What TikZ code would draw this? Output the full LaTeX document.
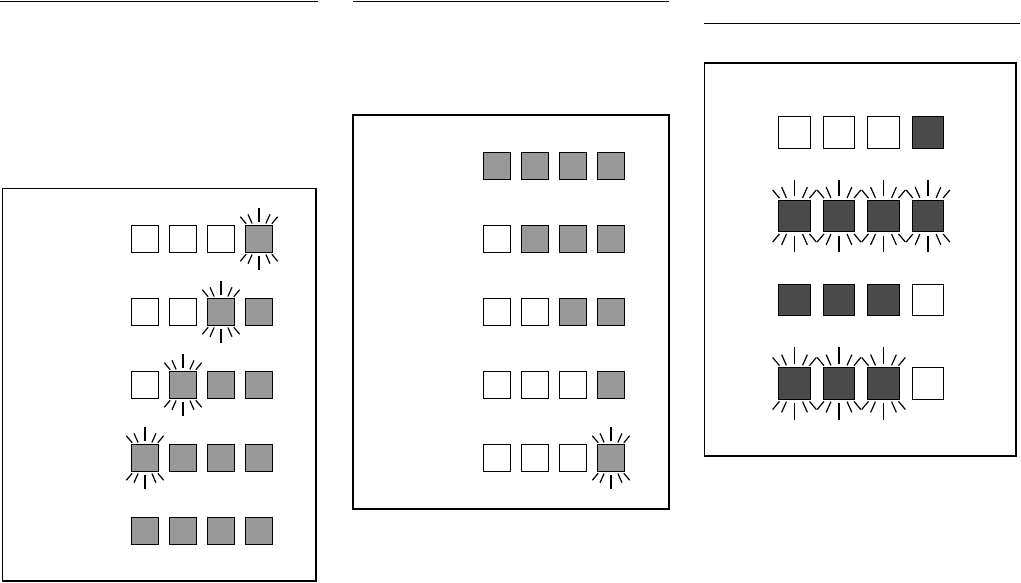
\documentclass[tikz,border=0pt]{standalone}
\definecolor{midgray}{HTML}{999999}
\definecolor{darkgray}{HTML}{4A4A4A}
\tikzset{
  panel/.style={draw=black,line width=1.5pt,fill=none},
  rule/.style={draw=black,line width=1.1pt},
  sq/.style={draw=black,line width=1.4pt,minimum size=27pt,inner sep=0pt,fill=white},
  bigsq/.style={sq,minimum size=31.5pt},
  off/.style={fill=white},
  on/.style={fill=midgray},
  dark/.style={fill=darkgray},
  ray/.style={draw=black,line width=1.2pt}
}
\newcommand\glowrays[2]{%
  \begin{scope}[shift={(#1.center)},scale=#2]
    \foreach \a/\ra/\rb in {90/17/31,66/17/27,114/17/27,50/20/29,130/20/29,
                            -90/17/31,-66/17/27,-114/17/27,-50/20/29,-130/20/29}
      \draw[ray] (\a:\ra) -- (\a:\rb);
  \end{scope}}
\begin{document}
\begin{tikzpicture}[x=1pt,y=-1pt]
\useasboundingbox (0,0) rectangle (1021,582);
% top rules
\coordinate (r1a) at (0,1.5);   \coordinate (r1b) at (318,1.5);
\coordinate (r2a) at (353,1.5); \coordinate (r2b) at (669,1.5);
\coordinate (r3a) at (704,23.5);\coordinate (r3b) at (1020,23.5);
\draw[rule] (r1a) -- (r1b);
\draw[rule] (r2a) -- (r2b);
\draw[rule,line width=1.5pt] (r3a) -- (r3b);
% panel frames
\draw[panel] (2.5,188.5) rectangle (316,581);
\draw[panel] (353,115) rectangle (669,509);
\draw[panel] (704.5,63) rectangle (1016,456);
% ---------- panel 1 ----------
\node[sq,off] (p1a1) at (145,239) {}; \node[sq,off] (p1a2) at (183,239) {};
\node[sq,off] (p1a3) at (221,239) {}; \node[sq,on]  (p1a4) at (259,239) {};
\node[sq,off] (p1b1) at (145,312) {}; \node[sq,off] (p1b2) at (183,312) {};
\node[sq,on]  (p1b3) at (221,312) {}; \node[sq,on]  (p1b4) at (259,312) {};
\node[sq,off] (p1c1) at (145,385) {}; \node[sq,on]  (p1c2) at (183,385) {};
\node[sq,on]  (p1c3) at (221,385) {}; \node[sq,on]  (p1c4) at (259,385) {};
\node[sq,on]  (p1d1) at (145,458) {}; \node[sq,on]  (p1d2) at (183,458) {};
\node[sq,on]  (p1d3) at (221,458) {}; \node[sq,on]  (p1d4) at (259,458) {};
\node[sq,on]  (p1e1) at (145,531) {}; \node[sq,on]  (p1e2) at (183,531) {};
\node[sq,on]  (p1e3) at (221,531) {}; \node[sq,on]  (p1e4) at (259,531) {};
\glowrays{p1a4}{1}
\glowrays{p1b3}{1}
\glowrays{p1c2}{1}
\glowrays{p1d1}{1}
% ---------- panel 2 ----------
\node[sq,on]  (p2a1) at (497,166) {}; \node[sq,on]  (p2a2) at (535,166) {};
\node[sq,on]  (p2a3) at (573,166) {}; \node[sq,on]  (p2a4) at (611,166) {};
\node[sq,off] (p2b1) at (497,239) {}; \node[sq,on]  (p2b2) at (535,239) {};
\node[sq,on]  (p2b3) at (573,239) {}; \node[sq,on]  (p2b4) at (611,239) {};
\node[sq,off] (p2c1) at (497,312) {}; \node[sq,off] (p2c2) at (535,312) {};
\node[sq,on]  (p2c3) at (573,312) {}; \node[sq,on]  (p2c4) at (611,312) {};
\node[sq,off] (p2d1) at (497,385) {}; \node[sq,off] (p2d2) at (535,385) {};
\node[sq,off] (p2d3) at (573,385) {}; \node[sq,on]  (p2d4) at (611,385) {};
\node[sq,off] (p2e1) at (497,458) {}; \node[sq,off] (p2e2) at (535,458) {};
\node[sq,off] (p2e3) at (573,458) {}; \node[sq,on]  (p2e4) at (611,458) {};
\glowrays{p2e4}{1}
% ---------- panel 3 ----------
\node[bigsq,off]  (p3a1) at (794.5,132.5) {}; \node[bigsq,off]  (p3a2) at (839,132.5) {};
\node[bigsq,off]  (p3a3) at (883.5,132.5) {}; \node[bigsq,dark] (p3a4) at (928,132.5) {};
\node[bigsq,dark] (p3b1) at (794.5,216) {}; \node[bigsq,dark] (p3b2) at (839,216) {};
\node[bigsq,dark] (p3b3) at (883.5,216) {}; \node[bigsq,dark] (p3b4) at (928,216) {};
\node[bigsq,dark] (p3c1) at (794.5,300) {}; \node[bigsq,dark] (p3c2) at (839,300) {};
\node[bigsq,dark] (p3c3) at (883.5,300) {}; \node[bigsq,off]  (p3c4) at (928,300) {};
\node[bigsq,dark] (p3d1) at (794.5,383.5) {}; \node[bigsq,dark] (p3d2) at (839,383.5) {};
\node[bigsq,dark] (p3d3) at (883.5,383.5) {}; \node[bigsq,off]  (p3d4) at (928,383.5) {};
\glowrays{p3b1}{1.17}
\glowrays{p3b2}{1.17}
\glowrays{p3b3}{1.17}
\glowrays{p3b4}{1.17}
\glowrays{p3d1}{1.17}
\glowrays{p3d2}{1.17}
\glowrays{p3d3}{1.17}
\end{tikzpicture}
\end{document}
